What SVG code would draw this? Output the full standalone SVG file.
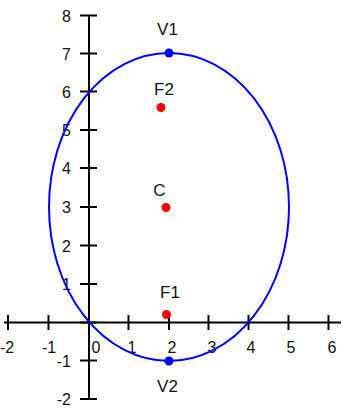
<svg xmlns="http://www.w3.org/2000/svg" width="343" height="412" viewBox="0 0 343 412">
<style>
.ax{stroke:#000;stroke-width:2;fill:none}
.tk{stroke:#000;stroke-width:2}
.tl{font-family:"Liberation Sans",Arial,sans-serif;font-size:16px;fill:#111}
.pl{font-family:"Liberation Sans",Arial,sans-serif;font-size:17px;fill:#111;text-anchor:middle}
.ell{fill:none;stroke:#0000ff;stroke-width:2}
.red{fill:#ff0000}
.blue{fill:#0000ff}
</style>
<rect width="343" height="412" fill="#ffffff"/>
<g id="axes">
<line class="ax" x1="4" y1="322.5" x2="341" y2="322.5"/>
<line class="ax" x1="89" y1="15.5" x2="89" y2="399.5"/>
<g class="tk">
<line x1="8" y1="315" x2="8" y2="330"/>
<line x1="48.5" y1="315" x2="48.5" y2="330"/>
<line x1="128.5" y1="315" x2="128.5" y2="330"/>
<line x1="169" y1="315" x2="169" y2="330"/>
<line x1="208.5" y1="315" x2="208.5" y2="330"/>
<line x1="248.5" y1="315" x2="248.5" y2="330"/>
<line x1="288.5" y1="315" x2="288.5" y2="330"/>
<line x1="328.5" y1="315" x2="328.5" y2="330"/>
<line x1="80" y1="15.5" x2="97" y2="15.5"/>
<line x1="80" y1="53.5" x2="97" y2="53.5"/>
<line x1="80" y1="91.5" x2="97" y2="91.5"/>
<line x1="80" y1="130" x2="97" y2="130"/>
<line x1="80" y1="168" x2="97" y2="168"/>
<line x1="80" y1="207" x2="97" y2="207"/>
<line x1="80" y1="245.5" x2="97" y2="245.5"/>
<line x1="80" y1="284" x2="97" y2="284"/>
<line x1="80" y1="322.5" x2="97" y2="322.5"/>
<line x1="80" y1="360.5" x2="97" y2="360.5"/>
<line x1="80" y1="399" x2="97" y2="399"/>
</g>
<g class="tl" text-anchor="middle">
<text x="7" y="353">-2</text>
<text x="49" y="353">-1</text>
<text x="96" y="353">0</text>
<text x="132" y="353">1</text>
<text x="172" y="353">2</text>
<text x="212" y="353">3</text>
<text x="251" y="353">4</text>
<text x="291" y="353">5</text>
<text x="332" y="353">6</text>
</g>
<g class="tl" text-anchor="end">
<text x="71" y="21.5">8</text>
<text x="71" y="59.5">7</text>
<text x="71" y="97.5">6</text>
<text x="71" y="136">5</text>
<text x="71" y="174">4</text>
<text x="71" y="213">3</text>
<text x="71" y="251.5">2</text>
<text x="71" y="290">1</text>
<text x="71" y="366.5">-1</text>
<text x="71" y="405">-2</text>
</g>
</g>
<g id="ellipse">
<ellipse class="ell" cx="169" cy="207" rx="120" ry="154"/>
</g>
<g id="V1"><circle class="blue" cx="169" cy="53" r="4.5"/><text class="pl" x="167.5" y="35">V1</text></g>
<g id="F2"><circle class="red" cx="161" cy="107.5" r="4.5"/><text class="pl" x="164" y="95">F2</text></g>
<g id="C"><circle class="red" cx="166" cy="207.5" r="4.5"/><text class="pl" x="159.5" y="196">C</text></g>
<g id="F1"><circle class="red" cx="166.5" cy="314.5" r="4.5"/><text class="pl" x="170" y="298">F1</text></g>
<g id="V2"><circle class="blue" cx="169" cy="361" r="4.5"/><text class="pl" x="167.5" y="392">V2</text></g>
</svg>
